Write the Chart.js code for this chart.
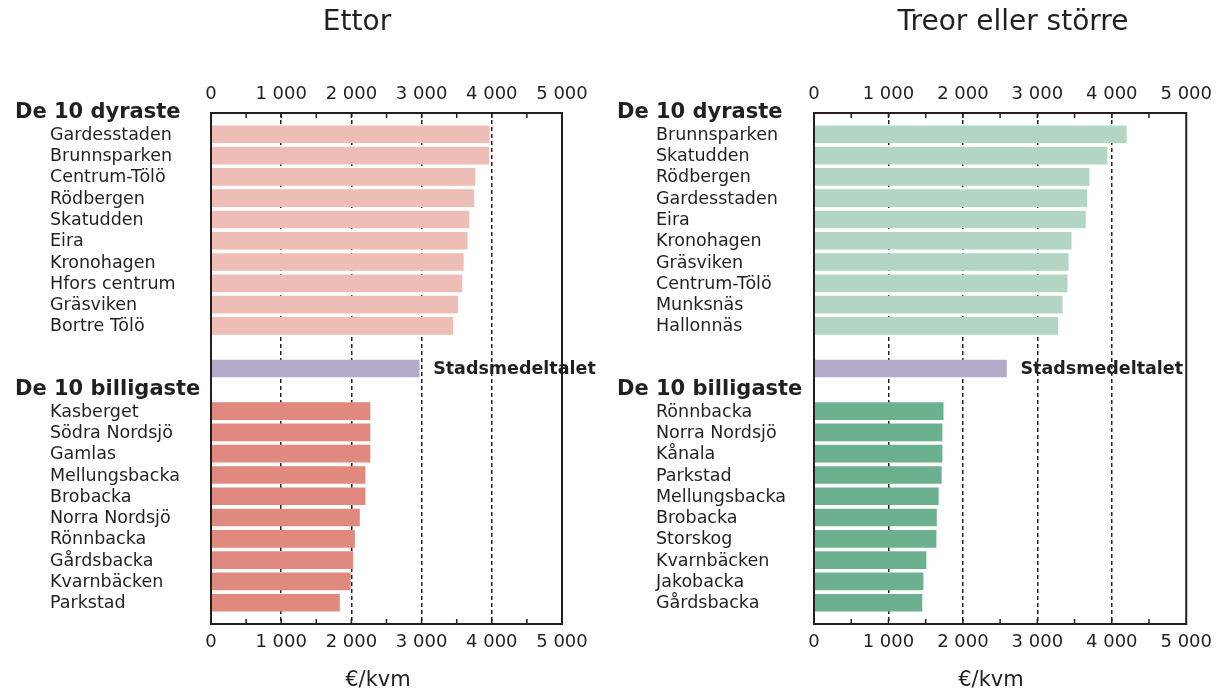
<!DOCTYPE html>
<html>
<head>
<meta charset="utf-8">
<script src="https://cdn.jsdelivr.net/npm/chart.js@4.4.1/dist/chart.umd.min.js"></script>
<style>
  body { margin: 0; background: #fff; }
  #wrap { position: relative; width: 1220px; height: 690px; font-family: "DejaVu Sans", sans-serif; color: #231f20; }
  canvas { position: absolute; top: 0; }
  .title { position: absolute; top: 4px; font-size: 28px; white-space: nowrap; transform: translateX(-50%); }
  .unit { position: absolute; top: 667px; font-size: 21px; white-space: nowrap; transform: translateX(-50%); }
</style>
</head>
<body>
<div id="wrap">
  <canvas id="ettorChart" width="610" height="690" style="left:0"></canvas>
  <canvas id="treorChart" width="610" height="690" style="left:610px"></canvas>
  <div class="title" style="left:357px">Ettor</div>
  <div class="title" style="left:1013px">Treor eller större</div>
  <div class="unit" style="left:378px">€/kvm</div>
  <div class="unit" style="left:991px">€/kvm</div>
</div>
<script>
// pris per kvadratmeter, de dyraste och billigaste områdena

const HEADER_TOP = "De 10 dyraste";
const HEADER_BOTTOM = "De 10 billigaste";
const AVG_LABEL = "Stadsmedeltalet";
const X_TICKS = [0, 1000, 2000, 3000, 4000, 5000];

const ettorTopNames = ["Gardesstaden", "Brunnsparken", "Centrum-Tölö", "Rödbergen", "Skatudden",
  "Eira", "Kronohagen", "Hfors centrum", "Gräsviken", "Bortre Tölö"];
const ettorTopValues = [3965, 3955, 3760, 3745, 3675, 3650, 3595, 3575, 3515, 3445];
const ettorAvg = 2965;
const ettorBottomNames = ["Kasberget", "Södra Nordsjö", "Gamlas", "Mellungsbacka", "Brobacka",
  "Norra Nordsjö", "Rönnbacka", "Gårdsbacka", "Kvarnbäcken", "Parkstad"];
const ettorBottomValues = [2265, 2265, 2265, 2195, 2195, 2115, 2045, 2020, 1985, 1830];

const treorTopNames = ["Brunnsparken", "Skatudden", "Rödbergen", "Gardesstaden", "Eira",
  "Kronohagen", "Gräsviken", "Centrum-Tölö", "Munksnäs", "Hallonnäs"];
const treorTopValues = [4195, 3935, 3695, 3665, 3645, 3455, 3415, 3400, 3335, 3275];
const treorAvg = 2585;
const treorBottomNames = ["Rönnbacka", "Norra Nordsjö", "Kånala", "Parkstad", "Mellungsbacka",
  "Brobacka", "Storskog", "Kvarnbäcken", "Jakobacka", "Gårdsbacka"];
const treorBottomValues = [1735, 1720, 1720, 1710, 1670, 1645, 1640, 1505, 1465, 1450];

const INK = "#231f20";
const FONT = "'DejaVu Sans', sans-serif";

function formatTick(v) {
  return v === 0 ? "0" : (v / 1000) + " 000";
}

// rader: rubrik, 10 dyraste, tom, medeltal, rubrik, 10 billigaste, tom
function buildRows(topNames, topValues, avg, bottomNames, bottomValues, topColor, avgColor, bottomColor) {
  const labels = [HEADER_TOP, ...topNames, "", AVG_LABEL, HEADER_BOTTOM, ...bottomNames, ""];
  const values = [null, ...topValues, null, avg, null, ...bottomValues, null];
  const colors = [null, ...topNames.map(() => topColor), null, avgColor, null,
    ...bottomNames.map(() => bottomColor), null];
  return { labels, values, colors };
}

function renderPanel(canvasId, rows, layout) {
  const ctx = document.getElementById(canvasId).getContext("2d");

  const labelsPlugin = {
    id: "rowLabels",
    afterDatasetsDraw(chart) {
      const { ctx, chartArea: a, scales: { x } } = chart;
      ctx.save();
      // ram
      ctx.strokeStyle = INK;
      ctx.lineWidth = 2;
      ctx.strokeRect(a.left, a.top, a.right - a.left, a.bottom - a.top);
      // små skalstreck var 500:e
      ctx.lineWidth = 1.5;
      for (let v = 500; v < 5000; v += 500) {
        const px = x.getPixelForValue(v);
        ctx.beginPath();
        ctx.moveTo(px, a.top);
        ctx.lineTo(px, a.top + 5);
        ctx.moveTo(px, a.bottom);
        ctx.lineTo(px, a.bottom - 5);
        ctx.stroke();
      }
      ctx.restore();
    },
    afterDraw(chart) {
      const { ctx, scales: { x, y } } = chart;
      ctx.save();
      ctx.fillStyle = INK;
      ctx.textBaseline = "middle";
      ctx.textAlign = "left";
      rows.labels.forEach((label, i) => {
        if (!label) return;
        const py = y.getPixelForValue(i);
        if (label === HEADER_TOP || label === HEADER_BOTTOM) {
          ctx.font = "bold 21px " + FONT;
          ctx.fillText(label, layout.headerX, py);
        } else if (label === AVG_LABEL) {
          ctx.font = "bold 17.5px " + FONT;
          ctx.fillText(label, x.getPixelForValue(rows.values[i]) + 14, py + 1);
        } else {
          ctx.font = "17.5px " + FONT;
          ctx.fillText(label, layout.itemX, py + 1);
        }
      });
      ctx.restore();
    }
  };

  const xTicks = {
    color: INK,
    font: { family: FONT, size: 18 },
    stepSize: 1000,
    callback: (v) => formatTick(v)
  };

  new Chart(ctx, {
    type: "bar",
    data: {
      labels: rows.labels,
      datasets: [{
        data: rows.values,
        backgroundColor: rows.colors,
        barThickness: 17,
        borderWidth: 0
      }]
    },
    options: {
      indexAxis: "y",
      responsive: false,
      animation: false,
      devicePixelRatio: 1,
      layout: { padding: { left: 0, right: layout.padRight, top: 0, bottom: 0 } },
      plugins: { legend: { display: false }, tooltip: { enabled: false } },
      scales: {
        x: {
          type: "linear",
          position: "bottom",
          min: 0,
          max: 5000,
          afterBuildTicks: (scale) => { scale.ticks = X_TICKS.map(v => ({ value: v })); },
          afterFit: (scale) => { scale.height = 66; },
          ticks: { ...xTicks, padding: 8 },
          grid: {
            drawTicks: false,
            lineWidth: 1.5,
            color: (c) => (c.tick && c.tick.value > 0 && c.tick.value < 5000) ? INK : "rgba(0,0,0,0)"
          },
          border: { display: false, dash: [4, 3] }
        },
        x2: {
          type: "linear",
          position: "top",
          min: 0,
          max: 5000,
          afterBuildTicks: (scale) => { scale.ticks = X_TICKS.map(v => ({ value: v })); },
          afterFit: (scale) => { scale.height = 113; },
          ticks: { ...xTicks, padding: 8 },
          grid: { display: false, drawTicks: false },
          border: { display: false }
        },
        y: {
          type: "category",
          offset: false,
          afterFit: (scale) => { scale.width = layout.axisWidth; },
          ticks: { display: false },
          grid: { display: false, drawTicks: false },
          border: { display: false }
        }
      }
    },
    plugins: [labelsPlugin]
  });
}

renderPanel("ettorChart",
  buildRows(ettorTopNames, ettorTopValues, ettorAvg, ettorBottomNames, ettorBottomValues,
    "#eebdb6", "#b3a9c9", "#e0897f"),
  { axisWidth: 211, padRight: 48, headerX: 15, itemX: 50 });

renderPanel("treorChart",
  buildRows(treorTopNames, treorTopValues, treorAvg, treorBottomNames, treorBottomValues,
    "#b2d5c4", "#b3a9c9", "#6bb08f"),
  { axisWidth: 204, padRight: 33, headerX: 7, itemX: 46 });
</script>
</body>
</html>
